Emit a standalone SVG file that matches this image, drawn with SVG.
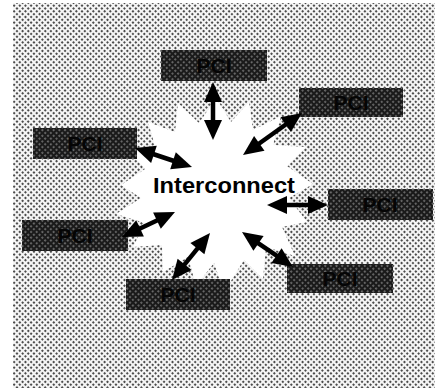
<svg xmlns="http://www.w3.org/2000/svg" width="435" height="388" viewBox="0 0 435 388">
<defs>
<pattern id="lt" width="4" height="4" patternUnits="userSpaceOnUse" patternTransform="rotate(45)">
<rect width="4" height="4" fill="#f6f6f6"/>
<circle cx="2" cy="2" r="1.1" fill="#222"/>
</pattern>
<pattern id="dk" width="4" height="4" patternUnits="userSpaceOnUse" patternTransform="rotate(45)">
<rect width="4" height="4" fill="#1a1a1a"/>
<circle cx="2" cy="2" r="0.85" fill="#aaa"/>
</pattern>
<style>
.box{fill:url(#dk)}
.pci{font-family:"Liberation Sans",Arial,sans-serif;font-weight:bold;font-size:21px;fill:#050505;text-anchor:middle}
.shaft{stroke:#000;stroke-width:4.5;fill:none}
.head{fill:#000}
</style>
</defs>
<rect x="0" y="0" width="435" height="388" fill="#fff"/>
<rect x="13" y="3" width="422" height="385" fill="url(#lt)"/>
<g id="star">
<polygon fill="#fff" points="216,98 231,122 249,102 253,130 281,116 273,145 306,147 287,166 313,184 289,198 307,222 282,227 295,256 266,247 263,279 244,260 224,292 214,263 196,286 188,257 163,272 162,245 133,247 145,223 116,214 141,198 121,185 145,169 127,149 155,146 148,122 175,132 178,103 199,123"/>
<text x="224" y="193" font-family="'Liberation Sans',Arial,sans-serif" font-weight="bold" font-size="22" fill="#000" text-anchor="middle" textLength="142" lengthAdjust="spacingAndGlyphs">Interconnect</text>
</g>
<g id="pci-top"><rect class="box" x="161" y="50" width="106" height="31"/><text class="pci" x="214" y="73">PCI</text></g>
<g id="pci-ur"><rect class="box" x="299" y="88" width="104" height="29"/><text class="pci" x="351" y="110">PCI</text></g>
<g id="pci-ul"><rect class="box" x="33" y="128" width="104" height="31"/><text class="pci" x="85" y="151">PCI</text></g>
<g id="pci-r"><rect class="box" x="328" y="189" width="105" height="31"/><text class="pci" x="380" y="212">PCI</text></g>
<g id="pci-ll"><rect class="box" x="22" y="220" width="106" height="31"/><text class="pci" x="75" y="243">PCI</text></g>
<g id="pci-lr"><rect class="box" x="287" y="264" width="106" height="29"/><text class="pci" x="340" y="286">PCI</text></g>
<g id="pci-b"><rect class="box" x="126" y="279" width="104" height="31"/><text class="pci" x="178" y="302">PCI</text></g>
<g id="connectors">
<g><line class="shaft" x1="213" y1="101" x2="213" y2="121"/><polygon class="head" points="213,82 204,102 222,102"/><polygon class="head" points="213,140 204,120 222,120"/></g>
<g><line class="shaft" x1="286.5" y1="124" x2="258.5" y2="144"/><polygon class="head" points="302,113 280.5,117.3 290.9,131.9"/><polygon class="head" points="243,155 254.1,136.1 264.5,150.7"/></g>
<g><line class="shaft" x1="153" y1="154" x2="174" y2="161"/><polygon class="head" points="135,148 151.1,162.9 156.8,145.8"/><polygon class="head" points="192,167 170.2,169.2 175.8,152.2"/></g>
<g><line class="shaft" x1="286" y1="205" x2="309" y2="205"/><polygon class="head" points="267,205 287,196 287,214"/><polygon class="head" points="328,205 308,196 308,214"/></g>
<g><line class="shaft" x1="139" y1="229" x2="158" y2="220"/><polygon class="head" points="122,237 143.9,236.6 136.2,220.3"/><polygon class="head" points="175,212 160.8,228.7 153.1,212.4"/></g>
<g><line class="shaft" x1="198" y1="247.8" x2="184" y2="265.2"/><polygon class="head" points="210,233 190.4,242.9 204.4,254.2"/><polygon class="head" points="172,280 177.6,258.8 191.6,270.1"/></g>
<g><line class="shaft" x1="257.7" y1="242.8" x2="277.3" y2="256.2"/><polygon class="head" points="242,232 253.4,250.7 263.6,235.9"/><polygon class="head" points="293,267 271.4,263.1 281.6,248.3"/></g>
</g>
</svg>
